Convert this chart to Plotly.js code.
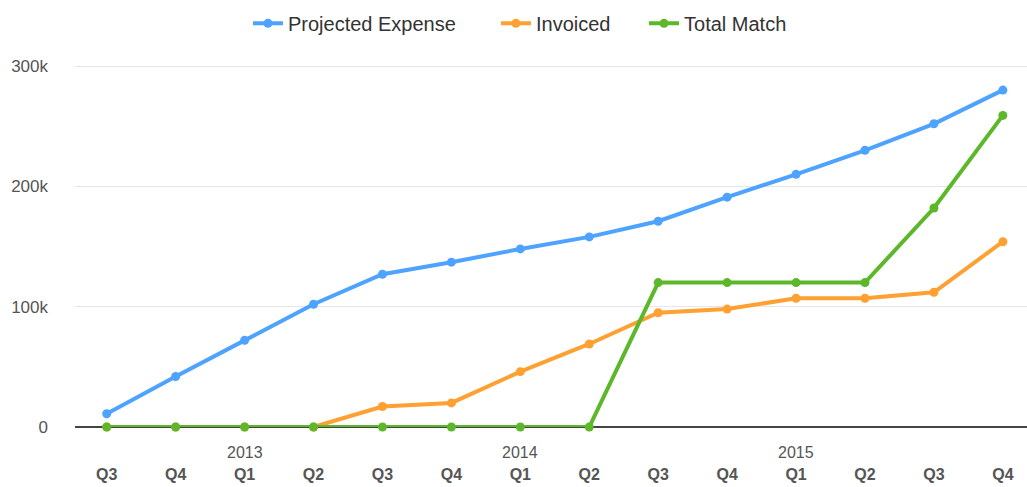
<!DOCTYPE html>
<html>
<head>
<meta charset="utf-8">
<script src="https://cdn.plot.ly/plotly-3.0.1.min.js"></script>
<style>
  html, body { margin: 0; padding: 0; background: #fff; }
  #chart { width: 1027px; height: 487px; }
</style>
</head>
<body>
<div id="chart"></div>
<script>
// quarters, Q3 2012 .. Q4 2015
var quarters = ['Q3', 'Q4', 'Q1', 'Q2', 'Q3', 'Q4', 'Q1', 'Q2', 'Q3', 'Q4', 'Q1', 'Q2', 'Q3', 'Q4'];
var years = ['2013', '2014', '2015'];
var yearPos = [2, 6, 10];

var projected = [11000, 42000, 72000, 102000, 127000, 137000, 148000, 158000, 171000, 191000, 210000, 230000, 252000, 280000];
var invoiced = [0, 0, 0, 0, 17000, 20000, 46000, 69000, 95000, 98000, 107000, 107000, 112000, 154000];
var totalMatch = [0, 0, 0, 0, 0, 0, 0, 0, 120000, 120000, 120000, 120000, 182000, 259000];

var idx = quarters.map(function(q, i) { return i; });

function serie(name, y, color, leg) {
    return {
        x: idx,
        y: y,
        name: name,
        legend: leg,
        type: 'scatter',
        mode: 'lines+markers',
        cliponaxis: false,
        line: { color: color, width: 4 },
        marker: { color: color, size: 9 }
    };
}

var data = [
    serie('Projected Expense', projected, '#4da3ff', 'legend'),
    serie('Invoiced', invoiced, '#ffa033', 'legend2'),
    serie('Total Match', totalMatch, '#5cb82a', 'legend3')
];

// etiquetas de año debajo de los trimestres
var annotations = years.map(function(y, i) {
    return {
        x: yearPos[i], y: 0, xref: 'x', yref: 'paper',
        yshift: -25, yanchor: 'middle',
        text: y, showarrow: false,
        font: { family: 'Liberation Sans, Arial, sans-serif', size: 16, color: '#555' }
    };
});

// una leyenda por serie para poder espaciarlas como en el original
function leyenda(x) {
    return {
        orientation: 'h',
        x: x, xanchor: 'left',
        y: 1.065, yanchor: 'middle',
        font: { size: 20, color: '#333' },
        itemwidth: 30,
        bgcolor: 'rgba(0,0,0,0)'
    };
}

var layout = {
    width: 1027,
    height: 487,
    margin: { l: 75, r: 0, t: 48, b: 60 },
    paper_bgcolor: '#fff',
    plot_bgcolor: '#fff',
    font: { family: 'Liberation Sans, Arial, sans-serif', size: 16, color: '#555' },
    showlegend: true,
    legend: leyenda(0.1817),
    legend2: leyenda(0.4422),
    legend3: leyenda(0.5977),
    xaxis: {
        range: [-0.46, 13.35],
        tickvals: idx,
        ticktext: quarters.map(function(q) { return '<b>' + q + '</b>'; }),
        tickfont: { size: 16, color: '#555' },
        ticklabelstandoff: 36,
        showgrid: false,
        zeroline: false,
        showline: false,
        ticks: ''
    },
    yaxis: {
        range: [0, 315000],
        tickvals: [0, 100000, 200000, 300000],
        ticktext: ['0', '100k', '200k', '300k'],
        tickfont: { size: 17, color: '#555' },
        ticklabelstandoff: 26,
        showgrid: true,
        gridcolor: '#e6e6e6',
        gridwidth: 1,
        zeroline: true,
        zerolinecolor: '#444',
        zerolinewidth: 2.5,
        showline: false,
        ticks: ''
    },
    annotations: annotations
};

Plotly.newPlot('chart', data, layout, { staticPlot: true, displayModeBar: false });
</script>
</body>
</html>
